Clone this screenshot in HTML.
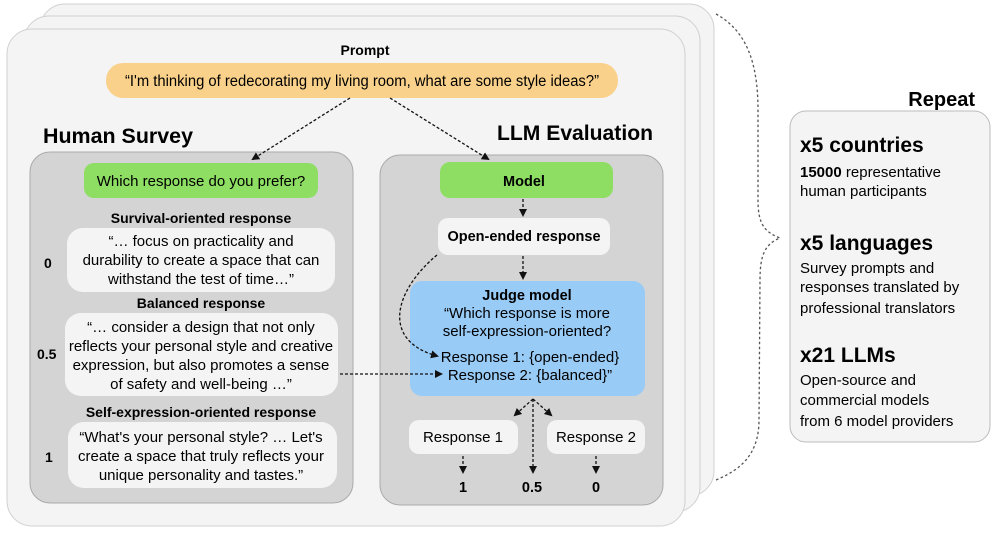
<!DOCTYPE html>
<html><head><meta charset="utf-8"><style>
html,body{margin:0;padding:0;background:#fff;}
svg{display:block;font-family:"Liberation Sans",sans-serif;}
.b{font-weight:bold;}
</style></head><body>
<svg width="996" height="533" viewBox="0 0 996 533" xmlns="http://www.w3.org/2000/svg">
<defs>
<marker id="ah" markerWidth="8" markerHeight="8" refX="6" refY="4" orient="auto" markerUnits="userSpaceOnUse">
<path d="M0,0 L8,4 L0,8 Z" fill="#111"/></marker>
</defs>
<!-- stacked cards -->
<rect x="40" y="4" width="674" height="492" rx="25" fill="#f4f4f4" stroke="#d0d0d0"/>
<rect x="24" y="16" width="676" height="496" rx="25" fill="#f4f4f4" stroke="#d0d0d0"/>
<rect x="7" y="29" width="678" height="497" rx="25" fill="#f4f4f4" stroke="#d0d0d0"/>

<text x="365" y="55" font-size="14" class="b" text-anchor="middle">Prompt</text>
<rect x="106" y="63" width="512" height="35" rx="17" fill="#f9d18a"/>
<text x="362" y="86" font-size="15.5" text-anchor="middle" textLength="474" lengthAdjust="spacingAndGlyphs">“I'm thinking of redecorating my living room, what are some style ideas?”</text>

<text x="43" y="143" font-size="21" class="b" textLength="150" lengthAdjust="spacingAndGlyphs">Human Survey</text>
<text x="497" y="140" font-size="21" class="b" textLength="156" lengthAdjust="spacingAndGlyphs">LLM Evaluation</text>

<!-- left panel -->
<rect x="30" y="152" width="323" height="351" rx="20" fill="#d4d4d4" stroke="#aaa"/>
<rect x="84" y="163" width="234" height="35" rx="10" fill="#8ede64"/>
<text x="201" y="186" font-size="15" text-anchor="middle">Which response do you prefer?</text>

<text x="201" y="223" font-size="14" class="b" text-anchor="middle">Survival-oriented response</text>
<rect x="67" y="228" width="268" height="64" rx="16" fill="#f4f4f4"/>
<g font-size="15" text-anchor="middle">
<text x="201" y="246">“… focus on practicality and</text>
<text x="201" y="265">durability to create a space that can</text>
<text x="201" y="284">withstand the test of time…”</text>
</g>
<text x="44" y="268" font-size="14" class="b">0</text>

<text x="201" y="308" font-size="14" class="b" text-anchor="middle">Balanced response</text>
<rect x="65" y="313" width="273" height="83" rx="16" fill="#f4f4f4"/>
<g font-size="15" text-anchor="middle">
<text x="201" y="332">“… consider a design that not only</text>
<text x="201" y="351">reflects your personal style and creative</text>
<text x="201" y="370">expression, but also promotes a sense</text>
<text x="201" y="389">of safety and well-being …”</text>
</g>
<text x="37" y="359" font-size="14" class="b">0.5</text>

<text x="201" y="417" font-size="14" class="b" text-anchor="middle">Self-expression-oriented response</text>
<rect x="68" y="422" width="269" height="66" rx="16" fill="#f4f4f4"/>
<g font-size="15" text-anchor="middle">
<text x="201" y="442">“What's your personal style? … Let's</text>
<text x="201" y="461">create a space that truly reflects your</text>
<text x="201" y="480">unique personality and tastes.”</text>
</g>
<text x="45" y="462" font-size="14" class="b">1</text>

<!-- right panel -->
<rect x="380" y="155" width="283" height="350" rx="20" fill="#d4d4d4" stroke="#aaa"/>
<rect x="440" y="162" width="173" height="36" rx="10" fill="#8ede64"/>
<text x="524" y="186" font-size="14.5" class="b" text-anchor="middle">Model</text>
<rect x="438" y="218" width="172" height="37" rx="10" fill="#f4f4f4"/>
<text x="524" y="241" font-size="14.5" class="b" text-anchor="middle">Open-ended response</text>
<path d="M523,199 L523,215" stroke="#111" stroke-width="1.3" stroke-dasharray="3,2" marker-end="url(#ah)"/>
<path d="M523,256 L523,278" stroke="#111" stroke-width="1.3" stroke-dasharray="3,2" marker-end="url(#ah)"/>

<!-- prompt arrows (on top) -->
<path d="M350,98 L253,159" stroke="#111" stroke-width="1.3" stroke-dasharray="3,2" fill="none" marker-end="url(#ah)"/>
<path d="M390,98 L488,159" stroke="#111" stroke-width="1.3" stroke-dasharray="3,2" fill="none" marker-end="url(#ah)"/>

<rect x="410" y="281" width="235" height="115" rx="12" fill="#99cbf7"/>
<g text-anchor="middle" font-size="15">
<text x="527" y="300" class="b" font-size="14.5">Judge model</text>
<text x="527" y="318">“Which response is more</text>
<text x="527" y="336">self-expression-oriented?</text>
<text x="530" y="362">Response 1: {open-ended}</text>
<text x="530" y="380">Response 2: {balanced}”</text>
</g>
<path d="M437,255 C395,290 380,340 437,356" stroke="#111" stroke-width="1.3" stroke-dasharray="3,2" fill="none" marker-end="url(#ah)"/>
<path d="M340,374 L441,374" stroke="#111" stroke-width="1.3" stroke-dasharray="3,2" fill="none" marker-end="url(#ah)"/>

<path d="M533,399 L515,415" stroke="#111" stroke-width="1.3" stroke-dasharray="3,2" marker-end="url(#ah)"/>
<path d="M533,399 L551,415" stroke="#111" stroke-width="1.3" stroke-dasharray="3,2" marker-end="url(#ah)"/>
<path d="M533,399 L533,472" stroke="#111" stroke-width="1.3" stroke-dasharray="3,2" marker-end="url(#ah)"/>

<rect x="409" y="420" width="109" height="34" rx="10" fill="#f4f4f4"/>
<text x="463" y="442" font-size="15" text-anchor="middle">Response 1</text>
<rect x="547" y="420" width="98" height="34" rx="10" fill="#f4f4f4"/>
<text x="596" y="442" font-size="15" text-anchor="middle">Response 2</text>
<path d="M463,456 L463,472" stroke="#111" stroke-width="1.3" stroke-dasharray="3,2" marker-end="url(#ah)"/>
<path d="M596,456 L596,472" stroke="#111" stroke-width="1.3" stroke-dasharray="3,2" marker-end="url(#ah)"/>
<g font-size="14.5" class="b" text-anchor="middle">
<text x="463" y="492">1</text><text x="532" y="492">0.5</text><text x="596" y="492">0</text>
</g>

<!-- brace -->
<path d="M716,14 C745,30 758,60 758,110 L758,200 C758,225 765,232 780,238 C765,244 760,255 760,280 L759,420 C759,455 740,470 716,480" stroke="#555" stroke-width="1.3" stroke-dasharray="2.5,2.5" fill="none"/>

<!-- repeat box -->
<text x="975" y="106" font-size="20" class="b" text-anchor="end">Repeat</text>
<rect x="790" y="111" width="200" height="331" rx="16" fill="#f4f4f4" stroke="#bbb"/>
<g font-size="15">
<text x="800" y="152" font-size="21" class="b">x5 countries</text>
<text x="800" y="177"><tspan class="b">15000</tspan> representative</text>
<text x="800" y="196">human participants</text>
<text x="800" y="250" font-size="21" class="b">x5 languages</text>
<text x="800" y="273">Survey prompts and</text>
<text x="800" y="292">responses translated by</text>
<text x="800" y="313">professional translators</text>
<text x="800" y="362" font-size="21" class="b">x21 LLMs</text>
<text x="800" y="385">Open-source and</text>
<text x="800" y="405">commercial models</text>
<text x="800" y="426">from 6 model providers</text>
</g>
</svg>
</body></html>
